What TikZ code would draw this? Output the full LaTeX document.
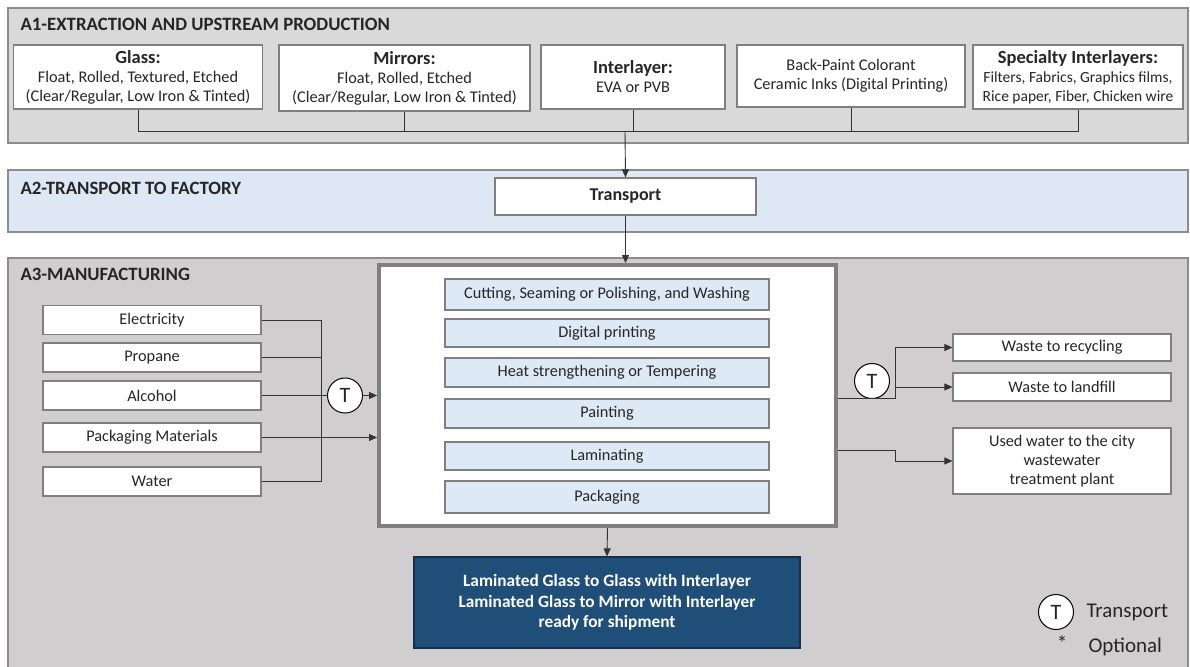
\documentclass[tikz,border=0pt]{standalone}
\usepackage{fontspec}
\setmainfont{Carlito}
\usetikzlibrary{arrows.meta}

\begin{document}
\begin{tikzpicture}[x=1pt, y=-1pt,
    every node/.style={font=\fontsize{16.3}{19}\selectfont, text=black!85},
    panel/.style={draw=PanelLine, line width=1.5pt},
    title/.style={anchor=west, font=\bfseries\fontsize{18.8}{21}\selectfont},
    box/.style={draw=BoxLine, fill=white, line width=1.2pt, inner sep=0pt, align=center},
    stepbox/.style={box, fill=StepBlue, minimum width=324pt},
    inbox/.style={box, minimum width=218pt, minimum height=29pt},
    outbox/.style={box, minimum width=218pt},
    tcircle/.style={circle, draw=black, fill=white, line width=1pt, minimum size=35pt,
        inner sep=0pt, font=\fontsize{22}{24}\selectfont},
    wire/.style={draw=black!80, line width=0.9pt},
    arrow/.style={wire, -{Triangle[length=8pt, width=7pt]}}]
    \definecolor{PanelLine}{HTML}{8C8C8C}
    \definecolor{BoxLine}{HTML}{7F7F7F}
    \definecolor{TopGray}{HTML}{D9D9D9}
    \definecolor{MidBlue}{HTML}{DEE8F4}
    \definecolor{LowGray}{HTML}{D0CECE}
    \definecolor{StepBlue}{HTML}{DEE9F6}
    \definecolor{NavyBox}{HTML}{1F4E79}
    \useasboundingbox (0,0) rectangle (1190,666);

    \draw[panel, fill=TopGray] (8,8) rectangle (1188,143);
    \node[title] (a1) at (17,24) {A1-EXTRACTION AND UPSTREAM PRODUCTION};
    \draw[panel, fill=MidBlue] (8,170) rectangle (1188,232);
    \node[title] (a2) at (17,188) {A2-TRANSPORT TO FACTORY};
    \draw[panel, fill=LowGray] (8,258) rectangle (1188,672);
    \node[title] (a3) at (17,274) {A3-MANUFACTURING};

    \node[box, minimum width=249pt, minimum height=64pt] (glass) at (138,77)
        {\textbf{\fontsize{18.5}{19}\selectfont Glass:}\\Float, Rolled, Textured, Etched\\(Clear/Regular, Low Iron \& Tinted)};
    \node[box, minimum width=251pt, minimum height=66pt] (mirror) at (404.5,78)
        {\textbf{\fontsize{18.5}{19}\selectfont Mirrors:}\\Float, Rolled, Etched\\(Clear/Regular, Low Iron \& Tinted)};
    \node[box, minimum width=184pt, minimum height=64pt] (inter) at (633,77)
        {\textbf{\fontsize{18.5}{19}\selectfont Interlayer:}\\EVA or PVB};
    \node[box, minimum width=228pt, minimum height=62pt] (paint) at (851,76)
        {Back-Paint Colorant\\Ceramic Inks (Digital Printing)};
    \node[box, minimum width=210pt, minimum height=64pt, font=\fontsize{15.5}{19}\selectfont] (special) at (1078,77)
        {\textbf{\fontsize{18.5}{19}\selectfont Specialty Interlayers:}\\Filters, Fabrics, Graphics films,\\Rice paper, Fiber, Chicken wire};

    \coordinate (bus) at (625,131);
    \foreach \src in {glass, mirror, inter, paint, special}{
        \draw[wire] (\src.south) |- (bus);
    }

    \node[box, minimum width=261pt, minimum height=37pt, font=\bfseries\fontsize{18}{20}\selectfont] (transport) at (625.5,196.5) {Transport};
    \draw[arrow] (bus) -- (transport.north);

    \node[draw=BoxLine, fill=white, line width=4pt, minimum width=457pt, minimum height=261pt] (plant) at (607.5,395.5) {};
    \draw[arrow] (transport.south) -- (transport.south |- plant.north);

    \foreach \name/\y/\h/\label in {cut/294.5/31/{Cutting, Seaming or Polishing, and Washing},
                                   print/333/28/{Digital printing},
                                   heat/372.5/29/{Heat strengthening or Tempering},
                                   painting/413.5/29/{Painting},
                                   laminate/456/28/{Laminating},
                                   packaging/497/32/{Packaging}}{
        \node[stepbox, minimum height=\h pt] (\name) at (607,\y) {\label};
    }

    \foreach \name/\y/\label in {elec/320/{Electricity},
                                 propane/357.5/{Propane},
                                 alcohol/395.5/{Alcohol},
                                 packmat/437.5/{Packaging Materials},
                                 water/481.5/{Water}}{
        \node[inbox] (\name) at (152,\y) {\label};
    }

    \coordinate (jtop) at (321,320);
    \coordinate (jbot) at (321,481.5);
    \node[tcircle] (tin) at (345,395.5) {T};
    \draw[wire] (elec.east) -- (jtop) -- (jbot) -- (water.east);
    \draw[wire] (propane.east) -- (propane.east -| jtop);
    \draw[wire] (alcohol.east) -- (tin.west);
    \draw[arrow] (tin.east) -- (tin.east -| plant.west);
    \draw[arrow] (packmat.east) -- (packmat.east -| plant.west);

    \node[outbox, minimum height=27pt] (recycle) at (1062,347.5) {Waste to recycling};
    \node[outbox, minimum height=28pt] (landfill) at (1062,387) {Waste to landfill};
    \node[outbox, minimum height=66pt] (usedwater) at (1062,461) {Used water to the city\\wastewater\\treatment plant};

    \node[tcircle] (tout) at (872,381) {T};
    \coordinate (wsplit) at (895,398);
    \coordinate (usplit) at (895,450);
    \draw[arrow] (plant.east |- wsplit) -- (wsplit) |- (recycle.west);
    \draw[arrow] (wsplit |- landfill.west) -- (landfill.west);
    \draw[arrow] (plant.east |- usplit) -- (usplit) |- (usedwater.west);

    \node[box, fill=NavyBox, draw=NavyBox!60!black, minimum width=386pt, minimum height=91pt,
        text=white, font=\bfseries\fontsize{17.3}{20.5}\selectfont] (product) at (607,602.5)
        {Laminated Glass to Glass with Interlayer\\Laminated Glass to Mirror with Interlayer\\ready for shipment};
    \draw[arrow] (plant.south) -- (product.north);

    \node[tcircle] (legt) at (1056,612) {T};
    \node[anchor=west, font=\fontsize{21}{22}\selectfont] (legtext) at (1083,612) {Transport};
    \node[font=\fontsize{21}{22}\selectfont] (legstar) at (1062,643) {*};
    \node[anchor=west, font=\fontsize{21}{22}\selectfont] (legopt) at (1085,647) {Optional};
\end{tikzpicture}
\end{document}
